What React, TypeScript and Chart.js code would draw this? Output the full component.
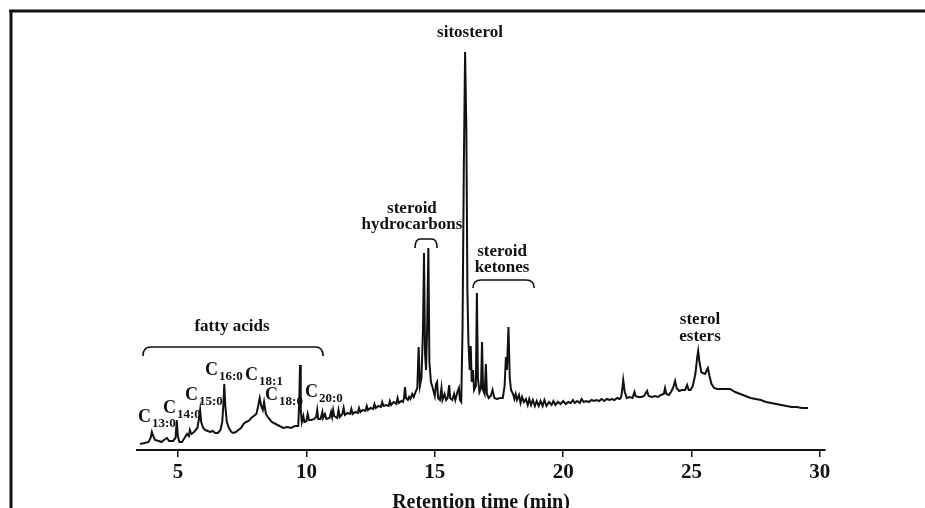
import React, { useEffect, useRef } from "react";
import { Chart, registerables } from "chart.js";

Chart.register(...registerables);

// ---------- axis ----------
const xTickValues = [5, 10, 15, 20, 25, 30];
const xMin = 3.4;
const xMax = 30.2;
const yMin = 0;
const yMax = 105;
const xTitle = "Retention time (min)";

// ---------- chromatogram trace: [retention time (min), relative intensity] ----------
const traceFattyAcids: [number, number][] = [
  [3.52, 1.5], [3.7, 1.75], [3.85, 2.0], [3.93, 3.0], [3.98, 4.5], [4.03, 3.5], [4.1, 2.5],
  [4.25, 2.25], [4.35, 2.0], [4.5, 2.75], [4.57, 3.0], [4.65, 2.25], [4.8, 2.25], [4.9, 3.0],
  [4.95, 7.5], [4.99, 3.5], [5.05, 2.0], [5.15, 2.0], [5.25, 3.0], [5.35, 4.0], [5.42, 3.5],
  [5.46, 5.0], [5.52, 4.0], [5.62, 4.5], [5.75, 5.5], [5.82, 8.0], [5.86, 10.0], [5.9, 7.0],
  [5.98, 5.5], [6.05, 5.0], [6.15, 4.75], [6.25, 4.5], [6.35, 4.75], [6.45, 4.25], [6.55, 4.25],
  [6.65, 5.0], [6.72, 7.0], [6.77, 12.0], [6.8, 16.5], [6.84, 11.0], [6.9, 7.0], [6.98, 5.5],
  [7.08, 4.5], [7.15, 4.25], [7.25, 4.5], [7.35, 5.0], [7.45, 5.5], [7.55, 6.5], [7.65, 7.0],
  [7.75, 7.25], [7.85, 8.0], [7.95, 8.5], [8.05, 9.0], [8.12, 11.0], [8.18, 13.0], [8.24, 11.0],
  [8.3, 10.0], [8.35, 12.0], [8.42, 9.0], [8.52, 8.0], [8.65, 7.0], [8.8, 6.5], [8.95, 6.0],
  [9.1, 5.5], [9.25, 5.75], [9.4, 5.5], [9.55, 6.0], [9.68, 6.0], [9.72, 12.0], [9.75, 21.25],
  [9.78, 10.0], [9.82, 7.0], [9.88, 8.5], [9.92, 7.0], [10.0, 7.25], [10.05, 9.0], [10.1, 7.5],
  [10.2, 7.5], [10.3, 7.75], [10.38, 8.25], [10.42, 10.0], [10.46, 7.75], [10.55, 7.75],
  [10.62, 9.5], [10.65, 8.0], [10.72, 9.0], [10.78, 7.75], [10.9, 8.0], [10.96, 9.5],
  [11.0, 8.25], [11.04, 10.0], [11.08, 8.5],
];

const traceHydrocarbons: [number, number][] = [
  [11.2, 8.0], [11.25, 10.0], [11.3, 8.25], [11.4, 9.0], [11.45, 10.5], [11.5, 8.75], [11.6, 9.25],
  [11.7, 9.0], [11.75, 10.25], [11.8, 9.0], [11.9, 9.5], [12.0, 9.25], [12.05, 10.5], [12.1, 9.5],
  [12.2, 10.0], [12.3, 9.75], [12.35, 11.0], [12.4, 10.0], [12.5, 10.5], [12.6, 10.25],
  [12.65, 11.5], [12.7, 10.5], [12.8, 11.0], [12.9, 10.75], [12.95, 12.0], [13.0, 11.0],
  [13.1, 11.25], [13.2, 11.0], [13.25, 12.25], [13.3, 11.25], [13.4, 12.0], [13.5, 11.5],
  [13.55, 13.0], [13.6, 11.75], [13.7, 12.25], [13.76, 12.0], [13.8, 13.0], [13.84, 15.75],
  [13.88, 13.0], [13.95, 12.5], [14.0, 13.25], [14.05, 12.75], [14.12, 14.0], [14.18, 13.25],
  [14.25, 14.5], [14.32, 15.5], [14.37, 25.75], [14.42, 16.0], [14.48, 18.0], [14.54, 30.0],
  [14.58, 49.25], [14.62, 24.0], [14.66, 20.0], [14.7, 30.0], [14.75, 50.5], [14.79, 22.0],
  [14.85, 17.0], [14.92, 15.5], [15.0, 13.5], [15.05, 16.5], [15.09, 17.0], [15.13, 13.0],
  [15.2, 12.5], [15.26, 15.5], [15.3, 12.5], [15.38, 14.0], [15.44, 12.5], [15.5, 13.0],
  [15.56, 16.25], [15.6, 13.0], [15.68, 12.5], [15.75, 14.0], [15.8, 12.5], [15.88, 14.5],
  [15.94, 15.5], [15.98, 12.5], [16.03, 12.0],
];

const traceSterolsKetones: [number, number][] = [
  [16.08, 30.0], [16.13, 70.0], [16.18, 99.5], [16.23, 80.0], [16.27, 40.0], [16.31, 27.0],
  [16.36, 20.0], [16.4, 26.0], [16.44, 17.0], [16.49, 20.0], [16.53, 15.0], [16.6, 16.0],
  [16.64, 39.25], [16.68, 18.0], [16.74, 14.5], [16.8, 15.5], [16.84, 27.0], [16.88, 15.0],
  [16.94, 14.0], [16.99, 21.5], [17.03, 14.0], [17.1, 13.0], [17.18, 13.5], [17.25, 15.0],
  [17.32, 13.0], [17.42, 12.75], [17.55, 13.0], [17.65, 13.0], [17.72, 16.0], [17.77, 23.25],
  [17.81, 20.0], [17.87, 30.75], [17.92, 18.0], [17.97, 15.0], [18.05, 14.0], [18.1, 12.75],
  [18.15, 14.0], [18.2, 12.5], [18.28, 13.75], [18.34, 11.75], [18.4, 13.25], [18.47, 12.0],
  [18.55, 12.75], [18.62, 11.25], [18.68, 12.75], [18.75, 11.25], [18.82, 12.5], [18.9, 11.0],
  [18.97, 12.25],
];

const traceLate: [number, number][] = [
  [19.05, 11.0], [19.12, 12.25], [19.2, 11.0], [19.27, 12.5], [19.35, 11.0], [19.45, 12.0],
  [19.55, 11.25], [19.62, 12.25], [19.7, 11.25], [19.8, 12.0], [19.9, 11.5], [20.0, 12.25],
  [20.1, 11.5], [20.2, 12.0], [20.3, 11.75], [20.38, 12.5], [20.45, 11.75], [20.55, 12.25],
  [20.65, 11.75], [20.72, 12.75], [20.8, 12.0], [20.9, 12.25], [21.0, 12.0], [21.1, 12.5],
  [21.2, 12.25], [21.3, 12.5], [21.4, 12.25], [21.5, 12.75], [21.6, 12.25], [21.7, 12.75],
  [21.8, 12.5], [21.9, 12.75], [22.0, 12.5], [22.1, 13.0], [22.2, 12.75], [22.26, 13.25],
  [22.3, 15.0], [22.34, 17.5], [22.4, 14.5], [22.48, 13.0], [22.6, 13.25], [22.7, 13.0],
  [22.78, 14.5], [22.82, 13.5], [22.92, 13.25], [23.05, 13.25], [23.15, 13.5], [23.27, 14.75],
  [23.33, 13.5], [23.45, 13.25], [23.58, 13.5], [23.7, 13.25], [23.8, 13.75], [23.92, 14.0],
  [23.97, 15.5], [24.02, 14.0], [24.12, 13.75], [24.2, 14.5], [24.28, 15.5], [24.36, 17.25],
  [24.42, 15.5], [24.52, 14.75], [24.62, 15.0], [24.75, 15.0], [24.83, 16.25], [24.89, 15.0],
  [24.96, 15.0], [25.05, 16.0], [25.15, 19.0], [25.22, 23.0], [25.26, 24.75], [25.31, 22.0],
  [25.38, 19.5], [25.45, 19.25], [25.53, 19.0], [25.6, 20.0], [25.64, 20.5], [25.7, 18.5],
  [25.78, 16.5], [25.88, 15.5], [26.0, 15.25], [26.15, 15.25], [26.3, 15.25], [26.5, 15.25],
  [26.7, 14.5], [26.9, 14.0], [27.1, 13.5], [27.3, 13.0], [27.5, 12.75], [27.7, 12.5],
  [27.9, 12.0], [28.1, 11.75], [28.3, 11.5], [28.5, 11.25], [28.7, 11.0], [28.9, 10.75],
  [29.1, 10.75], [29.3, 10.5], [29.54, 10.5],
];

// ---------- group annotations (data coordinates) ----------
const groupText = ["sitosterol", "steroid", "hydrocarbons", "steroid", "ketones", "fatty acids", "sterol", "esters"];
const groupX = [16.37, 14.11, 14.11, 17.62, 17.62, 7.1, 25.33, 25.33];
const groupY = [104.25, 60.25, 56.25, 49.5, 45.5, 30.75, 32.5, 28.25];

// brackets: [start, end] retention time, top and leg-end intensity
const bracketStart = [14.23, 16.49, 3.63];
const bracketEnd = [15.09, 18.87, 10.65];
const bracketTop = [52.75, 42.5, 25.75];
const bracketLeg = [50.5, 40.5, 23.5];

// fatty acid labels: C with subscript
const faSub = ["13:0", "14:0", "15:0", "16:0", "18:1", "18:0", "20:0"];
const faX = [3.44, 4.41, 5.27, 6.05, 7.61, 8.39, 9.94];
const faY = [7.0, 9.25, 12.5, 18.75, 17.5, 12.5, 13.25];

const SERIF = "'Liberation Serif', 'Times New Roman', Times, serif";

const annotationPlugin = {
  id: "chromAnnotations",
  afterDatasetsDraw(chart: any) {
    const { ctx } = chart;
    const xs = chart.scales.x;
    const ys = chart.scales.y;
    ctx.save();
    ctx.fillStyle = "#111";
    ctx.strokeStyle = "#111";

    // group labels
    ctx.font = `bold 17px ${SERIF}`;
    ctx.textAlign = "center";
    ctx.textBaseline = "middle";
    groupText.forEach((t, i) => {
      ctx.fillText(t, xs.getPixelForValue(groupX[i]), ys.getPixelForValue(groupY[i]));
    });

    // brackets
    ctx.lineWidth = 1.6;
    bracketStart.forEach((s, i) => {
      const x1 = xs.getPixelForValue(s);
      const x2 = xs.getPixelForValue(bracketEnd[i]);
      const yt = ys.getPixelForValue(bracketTop[i]);
      const yl = ys.getPixelForValue(bracketLeg[i]);
      const r = Math.min(8, (x2 - x1) / 4);
      ctx.beginPath();
      ctx.moveTo(x1, yl);
      ctx.quadraticCurveTo(x1, yt, x1 + r, yt);
      ctx.lineTo(x2 - r, yt);
      ctx.quadraticCurveTo(x2, yt, x2, yl);
      ctx.stroke();
    });

    // fatty acid labels
    ctx.textAlign = "left";
    ctx.textBaseline = "alphabetic";
    faSub.forEach((sub, i) => {
      const px = xs.getPixelForValue(faX[i]);
      const py = ys.getPixelForValue(faY[i]);
      ctx.font = `bold 18px ${SERIF}`;
      ctx.fillText("C", px, py);
      const w = ctx.measureText("C").width;
      ctx.font = `bold 13px ${SERIF}`;
      ctx.fillText(sub, px + w + 1, py + 5);
    });

    // figure frame (top and left rules)
    ctx.lineWidth = 3;
    ctx.beginPath();
    ctx.moveTo(9, 11);
    ctx.lineTo(925, 11);
    ctx.moveTo(11, 10);
    ctx.lineTo(11, 520);
    ctx.stroke();
    ctx.restore();
  },
};

export default function App() {
  const ref = useRef<HTMLCanvasElement | null>(null);

  useEffect(() => {
    if (!ref.current) return;
    const points = [...traceFattyAcids, ...traceHydrocarbons, ...traceSterolsKetones, ...traceLate].map(
      ([x, y]) => ({ x, y })
    );
    const chart = new Chart(ref.current, {
      type: "line",
      data: {
        datasets: [
          {
            data: points,
            borderColor: "#111",
            borderWidth: 2,
            pointRadius: 0,
            tension: 0,
            fill: false,
          },
        ],
      },
      options: {
        responsive: false,
        animation: false,
        events: [],
        layout: { padding: { left: 137, right: 100, top: 30, bottom: 0 } },
        plugins: { legend: { display: false }, tooltip: { enabled: false }, title: { display: false } },
        scales: {
          x: {
            type: "linear",
            min: xMin,
            max: xMax,
            afterFit: (scale: any) => {
              scale.height = 70;
            },
            afterBuildTicks: (scale: any) => {
              scale.ticks = xTickValues.map((v) => ({ value: v }));
            },
            border: { display: true, color: "#111", width: 2 },
            grid: { display: true, drawOnChartArea: false, drawTicks: true, tickLength: 7, color: "#111", lineWidth: 1.5 },
            ticks: {
              color: "#111",
              font: { family: SERIF, size: 21, weight: "bold" },
              padding: 3,
              maxRotation: 0,
              autoSkip: false,
            },
            title: {
              display: true,
              text: xTitle,
              color: "#111",
              font: { family: SERIF, size: 20, weight: "bold" },
              padding: { top: 0, bottom: 5 },
            },
          },
          y: { type: "linear", min: yMin, max: yMax, display: false },
        },
      },
      plugins: [annotationPlugin],
    });
    return () => chart.destroy();
  }, []);

  return (
    <div
      style={{ position: "fixed", left: 0, top: 0, width: 925, height: 508, overflow: "hidden", background: "#fff" }}
    >
      <canvas ref={ref} width={925} height={520} style={{ display: "block" }} />
    </div>
  );
}
